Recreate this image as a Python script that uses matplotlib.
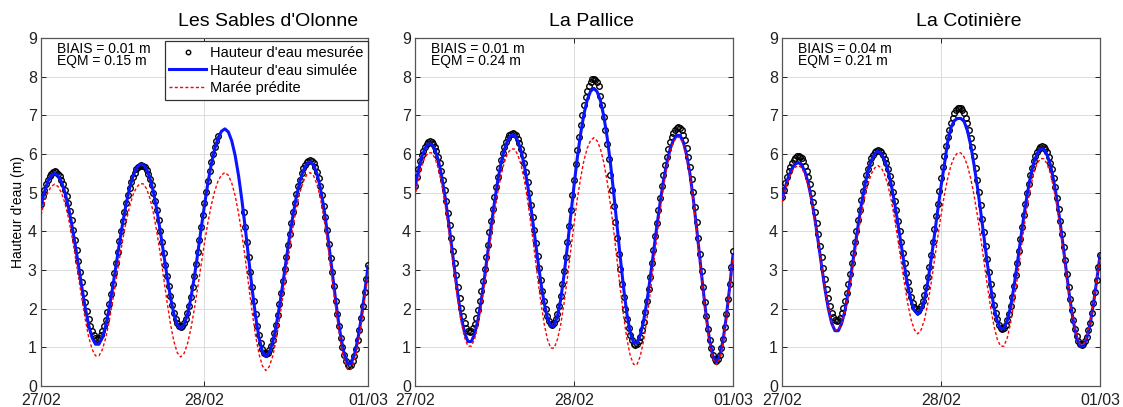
import numpy as np
import matplotlib
matplotlib.use("Agg")
import matplotlib.pyplot as plt

plt.rcParams['font.family'] = ['Liberation Sans', 'DejaVu Sans']

nan = np.nan

# pas de temps (heures) : mesures 15 min, simulation et marée prédite 30 min
dt_mes = 0.25
dt_sim = 0.5

# --- Les Sables d'Olonne ---
sables_mes = [4.72, 4.91, 5.08, 5.22, 5.34, 5.43, 5.49, 5.53, 5.55,
              5.53, 5.49, 5.43, 5.34, 5.23, 5.08, 4.92, 4.73, 4.52, 4.29, 4.04, 3.78, 3.51, 3.23, 2.95, 2.68,
              2.41, 2.16, 1.93, 1.72, 1.55, 1.41, 1.31, 1.25, 1.22,
              1.25, 1.31, 1.41, 1.54, 1.71, 1.91, 2.13, 2.38, 2.64, 2.91, 3.19, 3.46, 3.74, 4.01, 4.26, 4.50,
              4.73, 4.93, 5.11, 5.27, 5.41, 5.52, 5.60, 5.67, 5.70, 5.72,
              5.70, 5.66, 5.58, 5.48, 5.35, 5.19, 5.00, 4.78, 4.55, 4.29, 4.01, 3.73, 3.43, 3.14, 2.85, 2.58,
              2.32, 2.10, 1.90, 1.74, 1.62, 1.55, 1.52,
              1.55, 1.62, 1.74, 1.89, 2.08, 2.31, 2.57, 2.85, 3.15, 3.46, 3.78, 4.10, 4.42, 4.73, 5.02, 5.30,
              5.56, 5.79, 6.00, 6.18, 6.34, 6.47,
              nan, nan, nan, nan, nan, nan, nan, nan, nan, nan, nan, nan, nan, nan,
              4.49, 4.11, 3.72, 3.33, 2.94, 2.56, 2.19, 1.86, 1.56, 1.31, 1.11, 0.95, 0.86, 0.82,
              0.85, 0.92, 1.03, 1.18, 1.37, 1.59, 1.84, 2.11, 2.40, 2.71, 3.02, 3.33, 3.64, 3.93, 4.22, 4.49,
              4.74, 4.97, 5.17, 5.34, 5.50, 5.63, 5.72, 5.79, 5.83, 5.85,
              5.83, 5.77, 5.67, 5.54, 5.37, 5.17, 4.93, 4.66, 4.36, 4.03, 3.68, 3.32, 2.95, 2.58, 2.21, 1.86,
              1.54, 1.25, 1.00, 0.80, 0.65, 0.55, 0.52,
              0.55, 0.64, 0.78, 0.96, 1.19, 1.45, 1.75, 2.08, 2.42, 2.77, 3.13]
sables_sim = [4.66, 5.02, 5.29, 5.44, 5.50,
              5.44, 5.28, 5.02, 4.65, 4.20, 3.68, 3.12, 2.55, 2.02, 1.57, 1.25, 1.08,
              1.08, 1.25, 1.56, 2.00, 2.53, 3.10, 3.68, 4.22, 4.71, 5.11, 5.42, 5.63, 5.73,
              5.73, 5.61, 5.37, 5.02, 4.56, 4.01, 3.43, 2.84, 2.30, 1.87, 1.58, 1.48,
              1.58, 1.85, 2.27, 2.81, 3.42, 4.06, 4.68, 5.25, 5.74, 6.13, 6.42, 6.59, 6.65,
              6.57, 6.34, 5.96, 5.44, 4.79, 4.06, 3.27, 2.50, 1.80, 1.25, 0.89, 0.76,
              0.86, 1.12, 1.53, 2.06, 2.65, 3.27, 3.88, 4.43, 4.91, 5.29, 5.57, 5.74, 5.80,
              5.72, 5.50, 5.13, 4.63, 4.01, 3.31, 2.58, 1.87, 1.27, 0.83, 0.58,
              0.58, 0.80, 1.20, 1.75, 2.40, 3.09]
sables_pred = [4.42, 4.76, 5.01, 5.16, 5.22,
               5.16, 5.00, 4.74, 4.37, 3.92, 3.39, 2.83, 2.25, 1.72, 1.27, 0.95, 0.78,
               0.78, 0.94, 1.24, 1.66, 2.17, 2.72, 3.27, 3.79, 4.26, 4.64, 4.94, 5.13, 5.23,
               5.23, 5.10, 4.85, 4.48, 3.99, 3.42, 2.80, 2.18, 1.61, 1.16, 0.86, 0.75,
               0.84, 1.09, 1.48, 1.98, 2.54, 3.13, 3.70, 4.23, 4.68, 5.04, 5.31, 5.46, 5.52,
               5.45, 5.25, 4.92, 4.47, 3.91, 3.27, 2.58, 1.91, 1.30, 0.83, 0.52, 0.40,
               0.50, 0.76, 1.18, 1.72, 2.32, 2.95, 3.57, 4.13, 4.62, 5.01, 5.29, 5.46, 5.52,
               5.44, 5.22, 4.87, 4.38, 3.77, 3.09, 2.38, 1.69, 1.10, 0.67, 0.43,
               0.43, 0.65, 1.04, 1.59, 2.24, 2.92]

# --- La Pallice ---
pallice_mes = [5.18, 5.41, 5.62, 5.81, 5.97, 6.09, 6.19, 6.27, 6.31, 6.33,
               6.31, 6.26, 6.18, 6.07, 5.93, 5.76, 5.55, 5.32, 5.06, 4.78, 4.48, 4.16, 3.83, 3.50, 3.18,
               2.86, 2.55, 2.27, 2.02, 1.81, 1.64, 1.51, 1.43, 1.40,
               1.43, 1.50, 1.61, 1.76, 1.96, 2.19, 2.45, 2.72, 3.02, 3.33, 3.65, 3.97, 4.28, 4.59, 4.88, 5.15,
               5.41, 5.64, 5.85, 6.03, 6.19, 6.32, 6.42, 6.49, 6.53, 6.55,
               6.53, 6.48, 6.40, 6.29, 6.14, 5.97, 5.76, 5.53, 5.27, 4.98, 4.68, 4.36, 4.03, 3.70, 3.37, 3.05,
               2.74, 2.46, 2.21, 1.99, 1.82, 1.69, 1.61, 1.58,
               1.62, 1.72, 1.87, 2.07, 2.32, 2.63, 2.97, 3.33, 3.72, 4.13, 4.54, 4.94, 5.34, 5.73, 6.10, 6.43,
               6.74, 7.02, 7.26, 7.47, 7.64, 7.77, 7.87, 7.93, 7.95,
               7.92, 7.86, 7.76, 7.50, 7.26, 6.96, 6.62, 6.26, 5.87, 5.47, 5.06, 4.66, 4.24, 3.82, 3.41, 3.02,
               2.64, 2.30, 1.99, 1.73, 1.51, 1.33, 1.19, 1.09, 1.05,
               1.08, 1.16, 1.28, 1.45, 1.66, 1.92, 2.20, 2.50, 2.83, 3.17, 3.52, 3.87, 4.21, 4.55, 4.87, 5.17,
               5.45, 5.71, 5.93, 6.13, 6.31, 6.45, 6.55, 6.63, 6.68, 6.70,
               6.68, 6.61, 6.50, 6.35, 6.16, 5.93, 5.66, 5.35, 5.01, 4.63, 4.24, 3.83, 3.41, 2.98, 2.57, 2.17,
               1.81, 1.48, 1.20, 0.97, 0.80, 0.69, 0.65,
               0.69, 0.80, 0.98, 1.22, 1.52, 1.87, 2.25, 2.65, 3.07, 3.50]
pallice_sim = [5.12, 5.56, 5.91, 6.14, 6.26,
               6.26, 6.12, 5.86, 5.46, 4.95, 4.34, 3.67, 2.98, 2.33, 1.77, 1.37, 1.15,
               1.15, 1.34, 1.70, 2.21, 2.81, 3.47, 4.13, 4.75, 5.31, 5.77, 6.12, 6.36, 6.48,
               6.48, 6.35, 6.09, 5.71, 5.21, 4.63, 3.98, 3.31, 2.68, 2.15, 1.76, 1.55,
               1.56, 1.80, 2.24, 2.87, 3.60, 4.39, 5.17, 5.90, 6.52, 7.03, 7.40, 7.62, 7.70,
               7.61, 7.38, 6.98, 6.44, 5.77, 4.99, 4.15, 3.31, 2.52, 1.85, 1.38, 1.12,
               1.11, 1.31, 1.67, 2.18, 2.79, 3.45, 4.12, 4.74, 5.30, 5.76, 6.12, 6.36, 6.48,
               6.48, 6.31, 5.98, 5.49, 4.85, 4.11, 3.30, 2.49, 1.75, 1.15, 0.76, 0.62,
               0.77, 1.18, 1.80, 2.56, 3.39]
pallice_pred = [4.89, 5.34, 5.69, 5.91, 6.03,
                6.03, 5.90, 5.64, 5.25, 4.75, 4.15, 3.49, 2.82, 2.18, 1.64, 1.25, 1.03,
                1.03, 1.21, 1.56, 2.05, 2.62, 3.25, 3.88, 4.48, 5.01, 5.45, 5.79, 6.02, 6.13,
                6.13, 5.99, 5.73, 5.33, 4.81, 4.19, 3.52, 2.82, 2.17, 1.61, 1.20, 0.98,
                0.98, 1.20, 1.59, 2.14, 2.79, 3.49, 4.18, 4.83, 5.38, 5.83, 6.15, 6.35, 6.42,
                6.34, 6.13, 5.78, 5.30, 4.70, 4.01, 3.26, 2.51, 1.80, 1.21, 0.78, 0.56,
                0.55, 0.77, 1.16, 1.72, 2.39, 3.11, 3.84, 4.53, 5.14, 5.64, 6.04, 6.30, 6.43,
                6.43, 6.26, 5.92, 5.44, 4.80, 4.05, 3.24, 2.42, 1.68, 1.08, 0.69, 0.55,
                0.70, 1.11, 1.72, 2.48, 3.31]

# --- La Cotinière ---
cotiniere_mes = [4.88, 5.08, 5.26, 5.41, 5.55, 5.67, 5.77, 5.85, 5.90, 5.94, 5.95,
                 5.93, 5.89, 5.81, 5.70, 5.57, 5.41, 5.22, 5.00, 4.76, 4.49, 4.21, 3.92, 3.63, 3.33, 3.04,
                 2.76, 2.50, 2.27, 2.07, 1.90, 1.78, 1.71, 1.68,
                 1.71, 1.77, 1.88, 2.02, 2.19, 2.41, 2.64, 2.90, 3.17, 3.45, 3.73, 4.01, 4.29, 4.56, 4.81, 5.05,
                 5.26, 5.45, 5.62, 5.77, 5.89, 5.98, 6.04, 6.08, 6.10,
                 6.08, 6.04, 5.97, 5.88, 5.76, 5.62, 5.44, 5.25, 5.03, 4.79, 4.54, 4.27, 4.00, 3.72, 3.44, 3.18,
                 2.92, 2.68, 2.47, 2.30, 2.15, 2.04, 1.98, 1.95,
                 1.98, 2.06, 2.19, 2.35, 2.56, 2.81, 3.09, 3.40, 3.72, 4.05, 4.39, 4.72, 5.05, 5.37, 5.67, 5.95,
                 6.20, 6.43, 6.63, 6.81, 6.94, 7.05, 7.13, 7.18, 7.20,
                 7.18, 7.13, 7.05, 6.94, 6.80, 6.63, 6.42, 6.19, 5.94, 5.65, 5.34, 5.02, 4.68, 4.33, 3.98, 3.63,
                 3.28, 2.95, 2.64, 2.36, 2.10, 1.88, 1.72, 1.59, 1.51, 1.48,
                 1.51, 1.59, 1.71, 1.87, 2.08, 2.31, 2.58, 2.88, 3.18, 3.49, 3.81, 4.12, 4.43, 4.71, 4.98, 5.23,
                 5.45, 5.65, 5.81, 5.95, 6.06, 6.13, 6.18, 6.20,
                 6.18, 6.13, 6.04, 5.93, 5.78, 5.60, 5.38, 5.14, 4.87, 4.58, 4.26, 3.93, 3.59, 3.25, 2.90, 2.57,
                 2.25, 1.96, 1.70, 1.48, 1.30, 1.17, 1.08, 1.05,
                 1.08, 1.16, 1.28, 1.44, 1.64, 1.88, 2.15, 2.44, 2.75, 3.07, 3.39]
cotiniere_sim = [4.81, 5.15, 5.42, 5.62, 5.74, 5.78,
                 5.71, 5.53, 5.22, 4.80, 4.29, 3.70, 3.09, 2.50, 2.00, 1.63, 1.43,
                 1.43, 1.61, 1.94, 2.42, 2.97, 3.57, 4.16, 4.71, 5.18, 5.57, 5.84, 6.01, 6.07,
                 6.01, 5.85, 5.58, 5.20, 4.74, 4.21, 3.65, 3.10, 2.59, 2.20, 1.95, 1.85,
                 1.96, 2.24, 2.68, 3.25, 3.88, 4.53, 5.15, 5.71, 6.30, 6.68, 6.86, 6.92,
                 6.92, 6.84, 6.60, 6.22, 5.71, 5.15, 4.51, 3.84, 3.17, 2.56, 2.04, 1.68, 1.48,
                 1.48, 1.68, 2.04, 2.55, 3.14, 3.77, 4.38, 4.94, 5.41, 5.77, 6.01, 6.13,
                 6.13, 5.99, 5.73, 5.33, 4.82, 4.21, 3.54, 2.85, 2.20, 1.65, 1.25, 1.03,
                 1.03, 1.23, 1.59, 2.11, 2.72, 3.37]
cotiniere_pred = [4.75, 5.09, 5.35, 5.54, 5.66, 5.70,
                  5.64, 5.45, 5.16, 4.75, 4.24, 3.67, 3.07, 2.50, 2.01, 1.65, 1.45,
                  1.45, 1.61, 1.92, 2.35, 2.86, 3.41, 3.95, 4.45, 4.89, 5.24, 5.49, 5.64, 5.70,
                  5.64, 5.47, 5.19, 4.80, 4.33, 3.79, 3.21, 2.64, 2.12, 1.71, 1.45, 1.35,
                  1.45, 1.71, 2.12, 2.64, 3.23, 3.83, 4.41, 4.93, 5.36, 5.70, 5.92, 6.03,
                  6.03, 5.92, 5.70, 5.36, 4.93, 4.41, 3.83, 3.21, 2.59, 2.03, 1.55, 1.21, 1.03,
                  1.03, 1.24, 1.62, 2.15, 2.76, 3.42, 4.06, 4.63, 5.12, 5.50, 5.75, 5.88,
                  5.88, 5.75, 5.50, 5.13, 4.65, 4.08, 3.44, 2.80, 2.18, 1.66, 1.29, 1.08,
                  1.08, 1.27, 1.63, 2.13, 2.72, 3.35]

stations = ["Les Sables d'Olonne", "La Pallice", "La Cotinière"]
biais = [0.01, 0.01, 0.04]
eqm = [0.15, 0.24, 0.21]
mesures = [sables_mes, pallice_mes, cotiniere_mes]
simulations = [sables_sim, pallice_sim, cotiniere_sim]
predictions = [sables_pred, pallice_pred, cotiniere_pred]
date_ticks = [0, 24, 48]
date_labels = ['27/02', '28/02', '01/03']

fig = plt.figure(figsize=(11.23, 4.07), dpi=100)

# positions des axes (mesurées sur l'image)
positions = [[0.0365, 0.0516, 0.2912, 0.855],
             [0.3695, 0.0516, 0.2832, 0.855],
             [0.6963, 0.0516, 0.2832, 0.855]]
title_x = [0.693, 0.556, 0.588]

for i in range(3):
    ax = fig.add_axes(positions[i])
    mes = np.array(mesures[i], dtype=float)
    sim = np.array(simulations[i], dtype=float)
    pred = np.array(predictions[i], dtype=float)
    t_mes = np.arange(len(mes)) * dt_mes
    t_sim = np.arange(len(sim)) * dt_sim
    t_pred = np.arange(len(pred)) * dt_sim

    ax.plot(t_mes, mes, 'o', ms=4.0, mfc='none', mec='black', mew=1.0,
            label="Hauteur d'eau mesurée", zorder=3)
    ax.plot(t_sim, sim, '-', color='#0a14ff', lw=2.2, label="Hauteur d'eau simulée", zorder=4)
    ax.plot(t_pred, pred, color='red', lw=1.0, ls=(0, (2.2, 1.6)), label='Marée prédite', zorder=5)

    ax.set_xlim(0, 48)
    ax.set_ylim(0, 9)
    ax.set_yticks(range(10))
    ax.set_xticks(date_ticks)
    ax.set_xticklabels(date_labels)
    ax.tick_params(direction='in', length=3.5, width=0.7, labelsize=11.5,
                   top=True, right=True, pad=3, colors='#222222')
    ax.tick_params(axis='x', pad=5)
    ax.grid(True, color='#dcdcdc', lw=0.7)
    ax.set_axisbelow(True)
    for sp in ax.spines.values():
        sp.set_color('#555555')
        sp.set_linewidth(0.9)

    ax.text(0.05, 0.988, 'BIAIS = %.2f m\nEQM = %.2f m' % (biais[i], eqm[i]),
            transform=ax.transAxes, va='top', ha='left', fontsize=10,
            linespacing=0.8, zorder=6)
    ax.text(title_x[i], 1.047, stations[i], transform=ax.transAxes,
            ha='center', va='center', fontsize=14)

    if i == 0:
        ax.set_ylabel("Hauteur d'eau (m)", fontsize=10, labelpad=2)
        leg = ax.legend(loc='upper right', bbox_to_anchor=(1.0, 0.99), borderaxespad=0,
                        fontsize=10.5, frameon=True, fancybox=False, framealpha=1,
                        handlelength=2.5, handletextpad=0.3, borderpad=0.3,
                        labelspacing=0.25, markerscale=0.8)
        leg.get_frame().set_edgecolor('#333333')
        leg.get_frame().set_linewidth(0.9)

fig.savefig('out.png', dpi=100)
